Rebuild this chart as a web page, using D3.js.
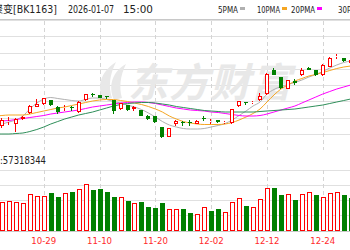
<!DOCTYPE html>
<html>
<head>
<meta charset="utf-8">
<script src="https://cdn.jsdelivr.net/npm/d3@7"></script>
<style>
  body { margin: 0; background: #fff; }
  svg { display: block; }
  text { font-family: "DejaVu Sans", "Noto Sans CJK SC", sans-serif; }
</style>
</head>
<body>
<svg id="chart" width="350" height="250"></svg>
<script>
// trading days, the first two sit left of the visible area
const dates = ["10-17","10-20","10-21","10-22","10-23","10-24","10-27","10-28","10-29","10-30","10-31",
  "11-03","11-04","11-05","11-06","11-07","11-10","11-11","11-12","11-13","11-14",
  "11-17","11-18","11-19","11-20","11-21","11-24","11-25","11-26","11-27","11-28",
  "12-01","12-02","12-03","12-04","12-05","12-08","12-09","12-10","12-11","12-12",
  "12-15","12-16","12-17","12-18","12-19","12-22","12-23","12-24","12-25","12-26","12-29","12-30"];

const open  = [1046,1050,1048,1056,1052,1062,1074,1087,1092,1100,1086,1084,1086,1076,1100,1111,1109,1108,1100,1082,1090,
  1082,1080,1068,1068,1046,1027,1053,1056,1057,1053,1065,1057,1060,1055,1054,1088,1096,1094,1100,1111,
  1159,1146,1123,1138,1150,1164,1160,1150,1167,1186,1183,1174];
const high  = [1056,1060,1064,1066,1064,1069,1090,1102,1105,1101,1088,1091,1089,1098,1112,1115,1110,1109,1101,1095,1091,
  1088,1081,1071,1069,1047,1045,1061,1059,1060,1060,1068,1062,1061,1059,1083,1099,1097,1099,1114,1154,
  1165,1147,1141,1142,1164,1166,1161,1172,1186,1193,1184,1182];
const low   = [1040,1046,1044,1050,1036,1061,1073,1086,1091,1089,1073,1078,1078,1074,1099,1107,1104,1102,1073,1080,1079,
  1079,1068,1060,1054,1025,1026,1048,1048,1049,1052,1058,1052,1054,1052,1052,1087,1091,1092,1099,1110,
  1150,1123,1122,1130,1149,1160,1149,1149,1166,1183,1176,1172];
const close = [1052,1056,1060,1059,1061,1067,1088,1092,1104,1090,1076,1086,1084,1097,1111,1109,1105,1106,1078,1094,1080,
  1086,1069,1062,1055,1026,1044,1058,1054,1055,1059,1063,1059,1055,1057,1082,1098,1094,1096,1108,1153,
  1151,1124,1140,1134,1160,1161,1150,1171,1184,1189,1178,1180];

// volume in millions, up = red hollow bar
const volume = [36,38,37.0,38.7,37.8,36.5,47.8,45.6,45.6,48.7,43.5,49.5,50.4,53.9,60.8,53.0,54.3,50.8,44.3,44.3,38.7,
  36.5,37.8,30.5,29.2,36.5,27.9,27.9,27.9,23.5,21.8,30.5,25.7,27.9,24.0,37.0,43.0,32.6,31.3,40.9,56.0,
  55.2,46.5,47.8,40.0,47.8,50.0,46.5,43.5,48.7,50.8,46.5,42.2];
const volUp = [1,1,1,1,1,1,1,1,1,0,0,1,0,1,1,0,0,0,0,1,0,
  1,0,0,0,0,1,1,0,0,1,1,0,0,1,1,1,0,1,1,1,
  0,0,1,0,1,1,0,1,1,1,0,0];

const ma5  = [1048,1050,1052,1056,1060,1068,1082,1094,1102,1105,1103,1101,1099,1098,1101,1104,1104,1101,1097,1094,1090,
  1086,1081,1074,1066,1057,1050,1046,1043,1042,1042,1043,1046,1049,1053,1060,1069,1078,1088,1096,1112,
  1121,1127,1131,1135,1140,1146,1151,1157,1164,1170,1175,1178];
const ma10 = [1068,1068,1069,1070,1070,1070,1072,1075,1078,1081,1084,1086,1089,1092,1095,1098,1100,1101,1101,1099,1097,
  1094,1091,1087,1082,1076,1068,1062,1057,1054,1052,1051,1051,1051,1052,1055,1060,1066,1073,1082,1096,
  1110,1122,1130,1138,1143,1148,1151,1155,1159,1163,1166,1168];
const ma20 = [1056,1057,1058,1059,1061,1063,1065,1067,1069,1072,1074,1076,1078,1080,1083,1086,1088,1090,1092,1094,1095,
  1096,1096,1095,1093,1090,1087,1084,1082,1080,1079,1078,1076,1075,1073,1071,1069,1068,1068,1069,1072,
  1076,1080,1084,1088,1094,1100,1106,1112,1117,1122,1126,1130];
const ma30 = [1032,1032,1032,1032,1033,1034,1037,1041,1046,1052,1057,1062,1066,1070,1073,1076,1080,1084,1088,1091,1093,
  1094,1095,1095,1094,1092,1090,1087,1085,1083,1081,1079,1078,1077,1076,1076,1076,1076,1076,1077,1078,
  1079,1080,1081,1082,1084,1086,1088,1090,1093,1096,1099,1102];

const tickLabels = ["10-17","10-29","11-10","11-20","12-02","12-12","12-24"];
const maNames  = ["5PMA","10PMA","20PMA","30PMA"];
const maColors = ["#b0b0b0","#f5a623","#ff00ff","#2f8f5a"];
const upColor = "#ff0000", downColor = "#008000";

const svg = d3.select("#chart");

const x = d3.scaleLinear().domain([0, dates.length - 1]).range([-12, -12 + (dates.length - 1) * 6.975]);
const y = d3.scaleLinear().domain([1000, 1260]).range([150, 20]);
const yv = d3.scaleLinear().domain([0, 80]).range([230.5, 169.5]);
const px = v => Math.round(v) + 0.5;

// header line
svg.append("line").attr("x1", 0).attr("x2", 350)
  .attr("y1", 19.5).attr("y2", 19.5).attr("stroke", "#c8c8c8");

// horizontal grid, price panel and volume panel
const grid = svg.append("g").attr("stroke", "#e0e0e0");
grid.selectAll(".hp").data(d3.range(1, 9).map(k => 1000 + k * 32.5)).enter().append("line")
  .attr("x1", 0).attr("x2", 350).attr("y1", d => px(y(d))).attr("y2", d => px(y(d)));
grid.selectAll(".hv").data([20, 40, 60, 80]).enter().append("line")
  .attr("x1", 0).attr("x2", 350).attr("y1", d => px(yv(d))).attr("y2", d => px(yv(d)));
svg.append("line").attr("x1", 0).attr("x2", 350)
  .attr("y1", px(yv(0))).attr("y2", px(yv(0))).attr("stroke", "#c8c8c8");

// vertical dashed grid at the labelled days
const tickIdx = tickLabels.map(t => dates.indexOf(t));
const vgrid = svg.append("g").attr("stroke", "#d4d4d4").attr("stroke-dasharray", "4,3");
tickIdx.forEach(i => {
  vgrid.append("line").attr("x1", px(x(i))).attr("x2", px(x(i))).attr("y1", 21).attr("y2", 150);
  vgrid.append("line").attr("x1", px(x(i))).attr("x2", px(x(i))).attr("y1", 170).attr("y2", 230);
});

// watermark
const wm = svg.append("g").attr("fill", "#e8e8e8");
wm.append("path")
  .attr("d", "M104,100 C96,88 100,72 116,62 C110,74 108,86 112,98 Z M114,100 C108,86 112,72 126,64 C120,76 119,88 122,98 Z");
wm.append("text").attr("x", 128).attr("y", 97)
  .attr("font-family", "Noto Sans CJK SC").attr("font-weight", "bold").attr("font-style", "italic")
  .attr("font-size", 40).attr("letter-spacing", 1).text("东方财富");

// MA lines
const maData = [ma5, ma10, ma20, ma30];
const line = d3.line().x((d, i) => x(i)).y(d => y(d)).curve(d3.curveMonotoneX);
maData.forEach((arr, k) => {
  svg.append("path").datum(arr).attr("fill", "none")
    .attr("stroke", maColors[k]).attr("stroke-width", 1).attr("d", line);
});

// candles
const idx = d3.range(2, dates.length);
const cg = svg.append("g").attr("shape-rendering", "crispEdges");
idx.forEach(i => {
  const up = close[i] >= open[i];
  const c = up ? upColor : downColor;
  const cx = Math.round(x(i));
  const top = Math.round(y(Math.max(open[i], close[i])));
  const bot = Math.max(Math.round(y(Math.min(open[i], close[i]))), top + 1);
  cg.append("line").attr("x1", cx - 0.5).attr("x2", cx - 0.5)
    .attr("y1", y(high[i])).attr("y2", top).attr("stroke", c);
  cg.append("line").attr("x1", cx - 0.5).attr("x2", cx - 0.5)
    .attr("y1", bot).attr("y2", y(low[i])).attr("stroke", c);
  if (up) {
    cg.append("rect").attr("x", cx - 1.5).attr("y", top + 0.5)
      .attr("width", 3).attr("height", Math.max(bot - top - 1, 0))
      .attr("fill", "#fff").attr("stroke", c);
  } else {
    cg.append("rect").attr("x", cx - 2).attr("y", top)
      .attr("width", 4).attr("height", bot - top).attr("fill", c);
  }
});

// volume bars
const vg = svg.append("g").attr("shape-rendering", "crispEdges");
idx.forEach(i => {
  const cx = Math.round(x(i));
  const top = Math.round(yv(volume[i]));
  const bot = Math.round(yv(0));
  if (volUp[i]) {
    vg.append("rect").attr("x", cx - 1.5).attr("y", top + 0.5)
      .attr("width", 4).attr("height", bot - top - 1)
      .attr("fill", "#fff").attr("stroke", upColor);
  } else {
    vg.append("rect").attr("x", cx - 2).attr("y", top)
      .attr("width", 5).attr("height", bot - top).attr("fill", downColor);
  }
});

// x labels
svg.append("g").selectAll("text").data(tickLabels).enter().append("text")
  .attr("x", d => x(dates.indexOf(d))).attr("y", 244)
  .attr("text-anchor", "middle").attr("font-size", 9.5).attr("fill", "#ff2a2a")
  .attr("textLength", 25).attr("lengthAdjust", "spacingAndGlyphs")
  .text(d => d);

// title
const title = [["聚变", -7, 20], ["[BK1163]", 13, 44], ["2026-01-07", 68, 46], ["15:00", 123, 30]];
svg.append("g").selectAll("text").data(title).enter().append("text")
  .attr("x", d => d[1]).attr("y", 13).attr("font-size", 10.5).attr("fill", "#222")
  .attr("textLength", d => d[2]).attr("lengthAdjust", "spacingAndGlyphs")
  .text(d => d[0]);

// legend
const legX = [218, 257, 291, 338];
const legW = [20, 23, 24, 24];
const leg = svg.append("g");
maNames.forEach((n, k) => {
  leg.append("text").attr("x", legX[k]).attr("y", 13).attr("font-size", 9.5).attr("fill", "#222")
    .attr("textLength", legW[k]).attr("lengthAdjust", "spacingAndGlyphs").text(n);
  leg.append("rect").attr("x", legX[k] + legW[k] + 2).attr("y", 7)
    .attr("width", 5).attr("height", 3).attr("fill", maColors[k]);
});

// volume header
svg.append("text").attr("x", 0).attr("y", 164).attr("font-size", 10).attr("fill", "#222")
  .attr("textLength", 46).attr("lengthAdjust", "spacingAndGlyphs").text(":57318344");
</script>
</body>
</html>
